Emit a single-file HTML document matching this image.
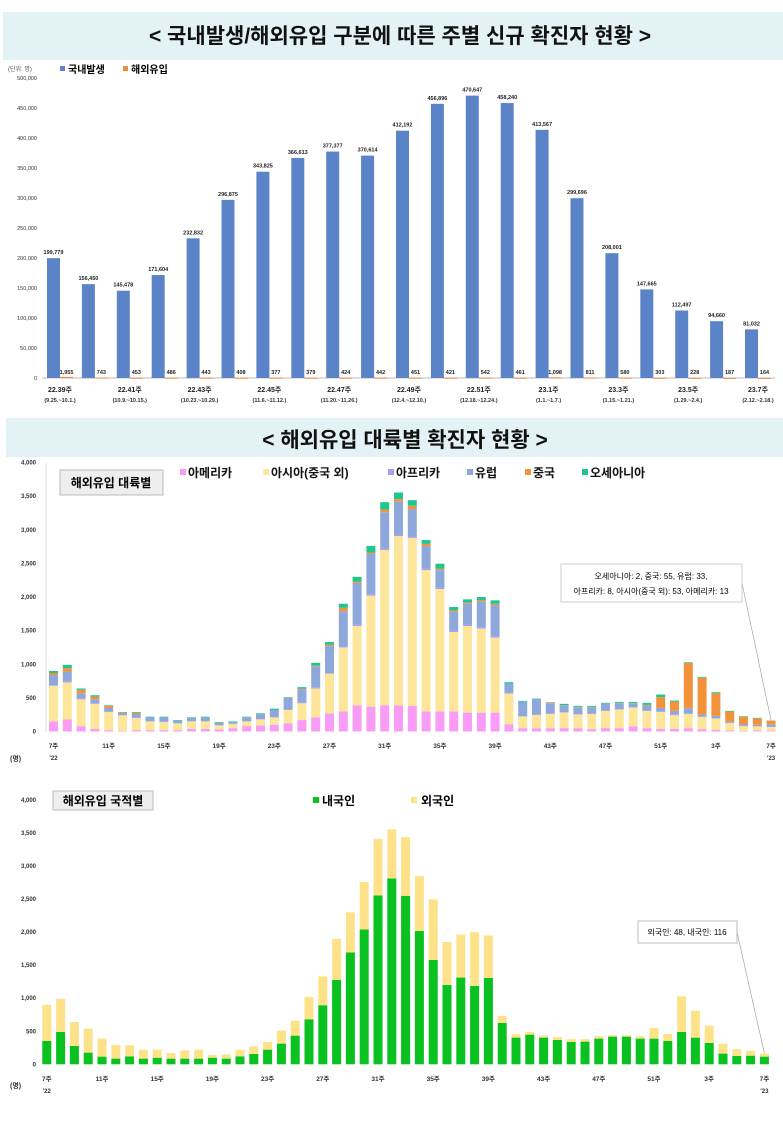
<!DOCTYPE html>
<html><head><meta charset="utf-8">
<style>
html,body{margin:0;padding:0;background:#fff;}
svg{display:block;font-family:"Liberation Sans","Noto Sans CJK KR",sans-serif;}
</style></head>
<body>
<svg id="root" width="783" height="1135" viewBox="0 0 783 1135" xmlns="http://www.w3.org/2000/svg">
  <rect x="3" y="12" width="780" height="48" fill="#e3f2f4"/>
  <text x="400" y="43" text-anchor="middle" font-size="21" font-weight="bold" fill="#111">&lt; 국내발생/해외유입 구분에 따른 주별 신규 확진자 현황 &gt;</text>
  <rect x="6" y="418" width="777" height="39" fill="#e3f2f4"/>
  <text x="405" y="447" text-anchor="middle" font-size="21" font-weight="bold" fill="#111">&lt; 해외유입 대륙별 확진자 현황 &gt;</text>

  <!-- top chart legend -->
  <text x="8" y="71" font-size="6" fill="#555">(단위: 명)</text>
  <rect x="60" y="66" width="5" height="5" fill="#5b84c8"/>
  <text x="68" y="73" font-size="10" font-weight="bold">국내발생</text>
  <rect x="123" y="66" width="5" height="5" fill="#ed8b45"/>
  <text x="131" y="73" font-size="10" font-weight="bold">해외유입</text>
  <g id="top"></g>

  <!-- middle chart -->
  <rect x="60" y="470" width="103" height="25" fill="#eee" stroke="#bbb"/>
  <text x="111" y="487" text-anchor="middle" font-size="12" font-weight="bold">해외유입 대륙별</text>
  <g id="midLegend"></g>
  <g id="mid"></g>
  <rect x="561" y="564" width="181" height="38" fill="#fff" stroke="#ccc"/>
  <text x="651" y="579" text-anchor="middle" font-size="8">오세아니아: 2, 중국: 55, 유럽: 33,</text>
  <text x="651" y="594" text-anchor="middle" font-size="8">아프리카: 8, 아시아(중국 외): 53, 아메리카: 13</text>

  <!-- bottom chart -->
  <rect x="53" y="791" width="100" height="19" fill="#eee" stroke="#bbb"/>
  <text x="103" y="805" text-anchor="middle" font-size="12" font-weight="bold">해외유입 국적별</text>
  <rect x="313" y="797" width="6" height="6" fill="#09c21f"/>
  <text x="322" y="805" font-size="12" font-weight="bold">내국인</text>
  <rect x="411" y="797" width="6" height="6" fill="#fde28a"/>
  <text x="421" y="805" font-size="12" font-weight="bold">외국인</text>
  <g id="bot"></g>
  <rect x="638" y="921" width="99" height="22" fill="#fff" stroke="#bbb"/>
  <text x="687" y="935" text-anchor="middle" font-size="8">외국인: 48, 내국인: 116</text>
</svg>
<script>
// ---- top chart data ----
const topWeeks = ["22.39주","22.40주","22.41주","22.42주","22.43주","22.44주","22.45주","22.46주","22.47주","22.48주","22.49주","22.50주","22.51주","22.52주","23.1주","23.2주","23.3주","23.4주","23.5주","23.6주","23.7주"];
const topDates = ["(9.25.~10.1.)","","(10.9.~10.15.)","","(10.23.~10.29.)","","(11.6.~11.12.)","","(11.20.~11.26.)","","(12.4.~12.10.)","","(12.18.~12.24.)","","(1.1.~1.7.)","","(1.15.~1.21.)","","(1.29.~2.4.)","","(2.12.~2.18.)"];
const domestic = [199779,156450,145478,171604,232832,296875,343825,366613,377377,370614,412192,456896,470647,458240,413567,299696,208001,147665,112497,94660,81032];
const imported = [1955,743,453,486,443,408,377,379,424,442,451,421,542,461,1098,811,580,303,228,187,164];
const topTicks = [0,50000,100000,150000,200000,250000,300000,350000,400000,450000,500000];

// ---- middle chart data (53 weeks) ----
const weekLabels = ["7주","8주","9주","10주","11주","12주","13주","14주","15주","16주","17주","18주","19주","20주","21주","22주","23주","24주","25주","26주","27주","28주","29주","30주","31주","32주","33주","34주","35주","36주","37주","38주","39주","40주","41주","42주","43주","44주","45주","46주","47주","48주","49주","50주","51주","52주","1주","2주","3주","4주","5주","6주","7주"];
const america = [150,180,80,40,20,10,20,20,20,20,40,40,30,50,80,90,100,120,170,210,270,300,390,370,390,386,380,297,297,297,280,280,280,107,50,50,50,50,50,35,50,50,75,50,40,40,50,35,25,15,10,15,13];
const asia = [530,550,400,370,270,230,180,130,120,100,110,110,60,60,70,90,110,200,250,430,590,950,1180,1650,2310,2520,2500,2103,1822,1183,1289,1250,1116,457,173,197,212,232,202,227,257,277,281,257,252,203,212,183,168,110,70,60,53];
const africa = [10,10,10,10,10,5,5,5,5,5,5,5,5,5,5,5,5,5,5,10,10,20,20,20,20,24,20,20,20,20,20,20,20,10,5,5,5,5,5,5,5,5,5,5,5,5,5,5,5,5,5,5,8];
const europe = [150,150,80,60,50,30,55,55,65,35,45,55,35,25,55,75,105,175,205,320,400,520,620,600,540,486,407,337,261,282,317,380,464,139,217,228,153,99,104,94,99,89,59,74,54,59,80,34,35,20,20,20,33];
const china = [30,50,50,40,30,10,20,0,0,0,0,0,0,0,0,0,0,0,10,10,20,50,20,20,40,39,49,33,20,18,14,20,20,0,0,0,10,5,5,5,5,5,5,10,159,138,673,543,337,147,115,95,55];
const oceania = [30,50,20,20,10,5,10,10,10,10,10,10,10,10,10,10,20,10,20,40,40,60,70,100,110,99,84,57,75,51,45,50,50,20,10,10,6,20,15,15,10,14,15,30,40,15,10,12,14,10,8,8,2];
const countTicks = [0,500,1000,1500,2000,2500,3000,3500,4000];

// ---- bottom chart data ----
const korean = [354,490,278,177,116,86,121,86,100,86,86,86,100,86,121,157,222,313,434,682,894,1278,1692,2040,2555,2813,2550,2020,1580,1202,1313,1187,1308,626,404,449,404,369,338,343,389,419,419,389,389,353,490,404,323,162,126,131,116];
const foreigner = [546,500,362,363,274,204,169,134,120,84,124,134,40,64,99,113,118,197,226,338,436,622,608,720,855,741,890,827,915,649,652,813,642,107,51,41,32,42,43,38,37,21,21,37,161,107,540,408,261,145,102,72,48];

const NS="http://www.w3.org/2000/svg";
function mk(tag, attrs, parent, txt){
  const e=document.createElementNS(NS,tag);
  for(const k in attrs) e.setAttribute(k,attrs[k]);
  if(txt!==undefined) e.textContent=txt;
  parent.appendChild(e); return e;
}
const fmt=v=>v.toLocaleString('en-US');

// ---- TOP CHART ----
(function(){
  const g=document.getElementById('top');
  const y0=378, yTop=78, vmax=500000;
  const y=v=>y0-(v/vmax)*(y0-yTop);
  const x0=47, step=34.9, bw=13;
  topTicks.forEach(t=>{
    const tx=mk('text',{x:37,y:y(t)+2,'text-anchor':'end','font-size':5.5,fill:'#333'},g,fmt(t));
    
    
  });
  const ax=mk('line',{x1:42,x2:775,y1:y0,y2:y0,stroke:'#bbb','stroke-width':1},g);
  
  
  domestic.forEach((v,i)=>{
    const bx=x0+i*step;
    const r=mk('rect',{x:bx,y:y(v),width:bw,height:y0-y(v),fill:'#5b84c8'},g);
    
    
    const lb=mk('text',{x:bx+bw/2,y:y(v)-4,'text-anchor':'middle','font-size':5.5,'font-weight':'bold',fill:'#222'},g,fmt(v));
    
    
    const iv=imported[i];
    const r2=mk('rect',{x:bx+bw,y:y(iv),width:bw,height:Math.max(1,y0-y(iv)),fill:'#ed8b45'},g);
    
    
    const l2=mk('text',{x:bx+bw+bw/2,y:y0-4,'text-anchor':'middle','font-size':5.5,'font-weight':'bold',fill:'#222'},g,fmt(iv));
    
    
    if(i%2===0){
      const w=mk('text',{x:bx+bw,y:392,'text-anchor':'middle','font-size':7,'font-weight':'bold',fill:'#222'},g,topWeeks[i]);
      
      
      const d=mk('text',{x:bx+bw,y:402,'text-anchor':'middle','font-size':5.5,'font-weight':'bold',fill:'#333'},g,topDates[i]);
      
      
    }
  });
})();

// ---- shared axis for week charts ----
function weekAxes(g, y0, yTop, xCenter0, yLab, unitY){
  const y=v=>y0-(v/4000)*(y0-yTop);
  countTicks.forEach(t=>{
    const tx=mk('text',{x:36,y:y(t)+2,'text-anchor':'end','font-size':6,'font-weight':'bold',fill:'#333'},g,fmt(t));
    
    
  });
  weekLabels.forEach((w,i)=>{
    if(i%4===0){
      const tx=mk('text',{x:xCenter0+i*13.8,y:yLab,'text-anchor':'middle','font-size':6.5,'font-weight':'bold',fill:'#333'},g,w);
      
      
    }
  });
  const a=mk('text',{x:xCenter0,y:yLab+12,'text-anchor':'middle','font-size':6,'font-weight':'bold',fill:'#333'},g,"'22");
  
  
  const b=mk('text',{x:xCenter0+52*13.8,y:yLab+12,'text-anchor':'middle','font-size':6,'font-weight':'bold',fill:'#333'},g,"'23");
  
  
  const u=mk('text',{x:10,y:unitY,'font-size':7,'font-weight':'bold',fill:'#333'},g,"(명)");
  
  
  return y;
}

// ---- MIDDLE CHART ----
(function(){
  const g=document.getElementById('mid');
  const y0=731.5, yTop=462.5, xc=53.5, bw=9;
  const y=weekAxes(g,y0,yTop,xc,748,761);
  const vline=mk('line',{x1:46,x2:46,y1:463,y2:732,stroke:'#ddd'},g);
  
  
  const series=[america,asia,africa,europe,china,oceania];
  const colors=['#f99cf5','#fde699','#a99cf0','#8fa8dc','#f2923a','#1fc78f'];
  const names=['america','asia','africa','europe','china','oceania'];
  weekLabels.forEach((w,i)=>{
    let acc=0;
    series.forEach((s,k)=>{
      const v=s[i]; if(!v) return;
      const r=mk('rect',{x:xc+i*13.8-bw/2,y:y(acc+v),width:bw,height:y(acc)-y(acc+v),fill:colors[k]},g);
      
      
      acc+=v;
    });
  });
  const last=weekLabels.length-1;
  let tot=0; series.forEach(s=>tot+=s[last]);
  const ln=mk('line',{x1:742,y1:583,x2:xc+last*13.8,y2:y(tot),stroke:'#999','stroke-width':0.6},g);
  
  
  const L=document.getElementById('midLegend');
  const labels=['아메리카','아시아(중국 외)','아프리카','유럽','중국','오세아니아'];
  const lx=[180,263,388,467,525,582];
  labels.forEach((t,k)=>{
    const r=mk('rect',{x:lx[k],y:469,width:6,height:6,fill:colors[k]},L);
    
    
    const tx=mk('text',{x:lx[k]+8,y:477,'font-size':12,'font-weight':'bold',fill:'#111'},L,t);
    
    
  });
})();

// ---- BOTTOM CHART ----
(function(){
  const g=document.getElementById('bot');
  const y0=1064.3, yTop=800, xc=46.8, bw=9;
  const y=weekAxes(g,y0,yTop,xc,1081,1088);
  weekLabels.forEach((w,i)=>{
    const k=korean[i], f=foreigner[i];
    const r=mk('rect',{x:xc+i*13.8-bw/2,y:y(k),width:bw,height:y0-y(k),fill:'#09c21f'},g);
    
    
    const r2=mk('rect',{x:xc+i*13.8-bw/2,y:y(k+f),width:bw,height:y(k)-y(k+f),fill:'#fde28a'},g);
    
    
  });
  const last=weekLabels.length-1;
  const ln=mk('line',{x1:737,y1:932,x2:xc+last*13.8,y2:y(korean[last]+foreigner[last]),stroke:'#999','stroke-width':0.6},g);
  
  
})();
</script>
</body></html>
